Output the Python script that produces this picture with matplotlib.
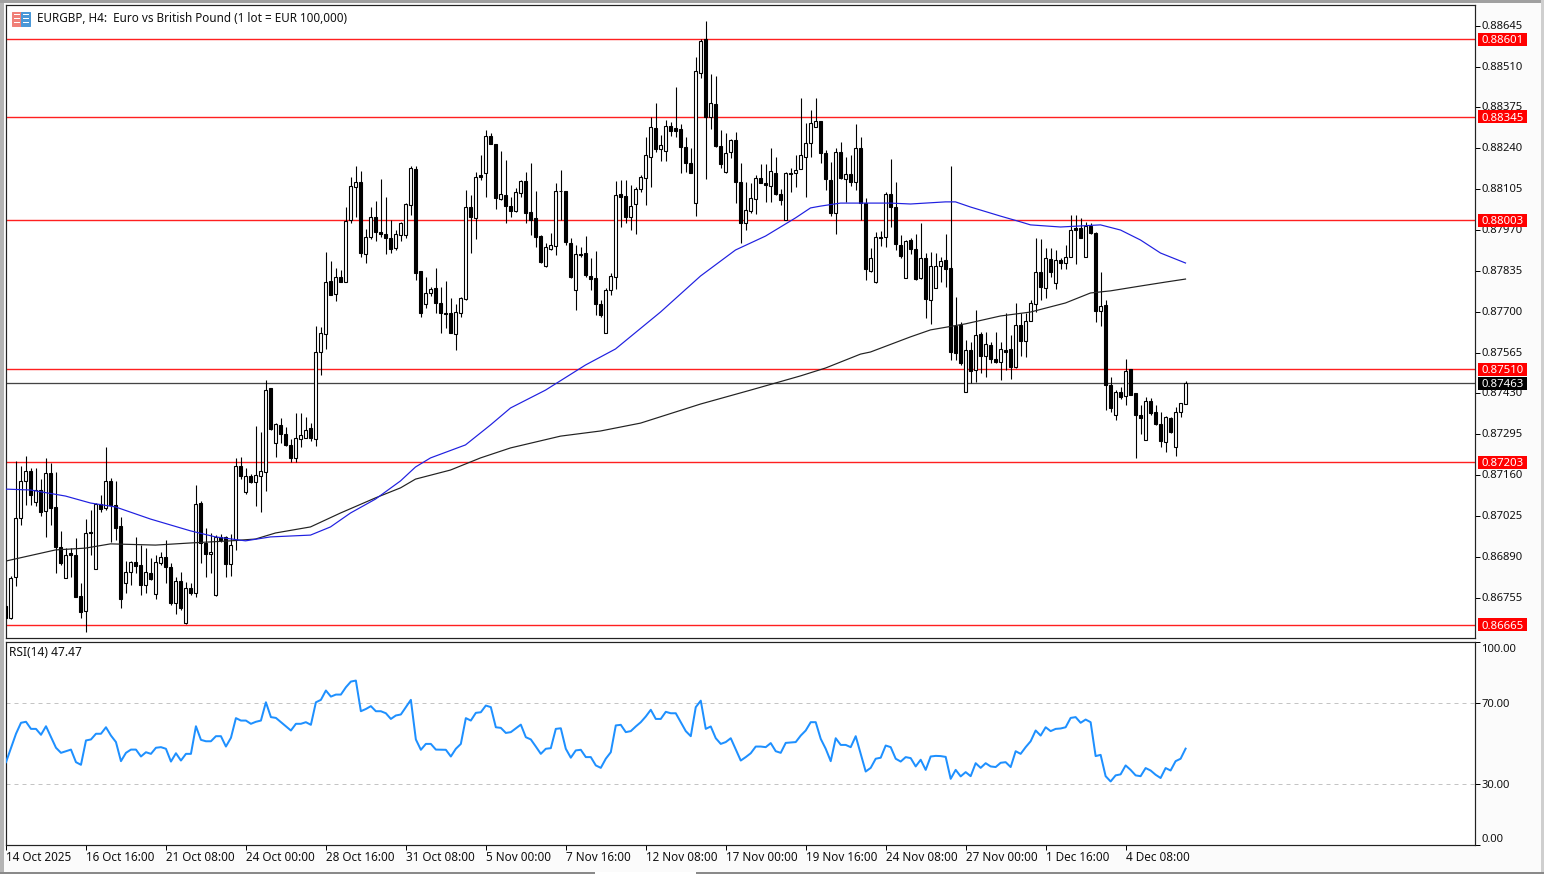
import numpy as np
import matplotlib
matplotlib.use('Agg')
import matplotlib.pyplot as plt
from matplotlib.patches import Rectangle
from matplotlib.transforms import ScaledTranslation

plt.rcParams['font.family'] = ['Noto Sans', 'DejaVu Sans']

# OHLC in points (1e-5)
opens = [86728,86688,86824,87019,87141,87174,87071,87111,87042,87167,
87055,86923,86820,86903,86896,86761,86711,86972,86850,87065,
87052,87141,87061,86992,86804,86840,86873,86863,86797,86837,
86767,86870,86890,86857,86738,86810,86672,86787,86771,87068,
86936,86900,86764,86956,86956,86867,86946,87190,87104,87157,
87137,87157,87171,87448,87266,87326,87296,87260,87217,87280,
87283,87316,87280,87567,87626,87802,87759,87815,87798,88003,
88112,88129,87891,87947,88013,87963,87957,87944,87911,87954,
87954,88053,88172,87835,87726,87762,87778,87729,87696,87696,
87626,87696,87742,88046,88010,88152,88158,88281,88254,88073,
88086,88049,88033,88092,88132,88030,88010,87950,87851,87907,
87917,88099,88099,87927,87772,87891,87894,87818,87811,87726,
87630,87772,87815,88089,88082,88013,88056,88106,88142,88211,
88307,88238,88231,88314,88307,88304,88244,88191,88059,88489,
88601,88343,88386,88248,88162,88228,88267,88129,87993,88033,
88073,88142,88125,88115,88158,88089,88003,88158,88158,88172,
88211,88258,88310,88330,88224,88135,88026,88228,88139,88155,
88129,88241,88059,87835,87798,87947,87947,88089,88046,87921,
87811,87937,87907,87811,87878,87739,87778,87851,87871,87845,
87653,87656,87435,87574,87508,87626,87554,87590,87544,87534,
87574,87577,87517,87656,87603,87669,87726,87831,87778,87874,
87795,87871,87861,87881,87977,87977,87881,87983,87960,87702,
87722,87458,87359,87435,87422,87511,87431,87359,87276,87405,
87369,87329,87270,87349,87253,87369,87395]
highs = [86731,86827,87207,87190,87223,87184,87184,87147,87217,87200,
87171,86976,86919,86919,86952,86804,87015,87045,87068,87095,
87253,87151,87141,87022,86876,86876,86956,86929,86919,86886,
86896,86906,86946,86870,86824,86840,86807,86804,87128,87075,
86985,86969,86962,86966,86959,86966,87217,87220,87184,87164,
87322,87303,87474,87448,87332,87349,87319,87280,87365,87365,
87352,87332,87653,87650,87897,87868,87845,87838,88046,88145,
88182,88165,87973,88046,88066,88139,88079,88003,87970,87997,
88059,88182,88182,87835,87815,87782,87845,87782,87802,87745,
87726,87749,88102,88086,88162,88218,88300,88291,88254,88231,
88201,88079,88109,88135,88162,88191,88099,87954,87927,87960,
88125,88168,88099,87944,87921,87914,87950,87878,87901,87739,
87778,87828,88132,88135,88135,88119,88112,88152,88277,88343,
88390,88284,88334,88327,88443,88320,88277,88241,88542,88601,
88661,88486,88479,88300,88291,88271,88294,88191,88129,88125,
88152,88188,88188,88241,88211,88106,88162,88175,88218,88406,
88324,88367,88406,88330,88234,88195,88241,88261,88211,88218,
88320,88277,88076,87911,87963,87967,88096,88205,88129,87954,
87937,87944,87957,87993,87894,87897,87894,87881,87957,88182,
87749,87666,87607,87600,87706,87633,87633,87600,87633,87600,
87696,87623,87729,87696,87696,87739,87944,87940,87911,87911,
87904,87878,87921,88020,88020,88010,87997,87993,87963,87831,
87739,87484,87441,87451,87544,87511,87431,87392,87418,87415,
87392,87369,87356,87352,87385,87398,87471]
lows = [86685,86685,86794,86995,87061,87061,87058,87025,86956,86995,
86837,86863,86820,86824,86758,86688,86642,86896,86850,87038,
87045,86939,86946,86721,86771,86797,86837,86764,86771,86814,
86751,86863,86804,86731,86701,86715,86668,86764,86758,86870,
86824,86837,86761,86939,86824,86827,86913,87147,87098,87134,
87058,87038,87108,87309,87220,87266,87256,87204,87204,87253,
87283,87273,87256,87491,87577,87755,87735,87798,87798,87993,
88013,87881,87861,87940,87934,87947,87891,87894,87904,87934,
87944,88020,87805,87683,87712,87752,87696,87630,87646,87630,
87574,87683,87739,87894,87940,88135,88079,88254,88039,88069,
87993,88013,88030,88079,87993,87954,87914,87861,87848,87904,
87887,88003,87921,87811,87706,87881,87815,87772,87689,87683,
87630,87755,87775,87980,87993,87970,87957,88096,88053,88112,
88228,88198,88198,88281,88277,88158,88162,88158,88016,88472,
88139,88304,88244,88175,88158,88208,88059,87927,87970,88026,
88023,88125,88063,88063,88086,88053,88003,88096,88112,88172,
88079,88211,88310,88191,88102,88016,87957,88139,88063,88115,
88102,88003,87805,87831,87795,87917,87914,87980,87904,87878,
87811,87891,87805,87808,87679,87660,87778,87798,87782,87541,
87541,87524,87435,87465,87468,87498,87484,87531,87531,87474,
87508,87478,87514,87554,87551,87669,87699,87739,87745,87815,
87775,87841,87841,87881,87858,87944,87881,87957,87666,87653,
87375,87369,87342,87412,87392,87425,87217,87296,87276,87359,
87326,87253,87237,87299,87223,87352,87395]
closes = [86688,86820,87019,87141,87174,87095,87111,87038,87167,87052,
86923,86870,86896,86896,86758,86708,86969,86969,87065,87048,
87141,87061,86985,86751,86840,86873,86860,86797,86840,86817,
86873,86890,86857,86738,86810,86721,86787,86771,87065,86936,
86900,86906,86956,86946,86867,86929,87190,87157,87157,87137,
87161,87174,87441,87313,87329,87296,87260,87217,87283,87293,
87309,87283,87567,87630,87798,87755,87815,87798,88000,88115,
88129,87894,87947,88013,87963,87957,87944,87907,87957,87993,
88056,88175,87828,87696,87762,87775,87729,87696,87693,87630,
87699,87745,88046,88013,88145,88145,88281,88254,88076,88089,
88049,88033,88096,88132,88026,88003,87947,87864,87914,87921,
88099,88099,87930,87815,87891,87888,87821,87808,87726,87689,
87772,87818,88086,88079,88013,88049,88106,88145,88218,88310,
88238,88251,88314,88297,88297,88244,88191,88158,88495,88595,
88343,88390,88248,88188,88224,88267,88129,87993,88036,88076,
88142,88125,88119,88165,88089,88069,88158,88155,88168,88218,
88258,88324,88330,88224,88139,88026,88228,88142,88155,88129,
88241,88059,87841,87878,87947,87944,88089,88046,87924,87884,
87934,87907,87808,87878,87742,87851,87851,87868,87841,87567,
87564,87531,87574,87504,87623,87554,87593,87544,87534,87577,
87567,87517,87656,87603,87669,87729,87831,87782,87878,87831,
87871,87861,87881,87970,87970,87944,87983,87960,87702,87719,
87458,87382,87435,87418,87504,87425,87359,87349,87405,87365,
87329,87273,87352,87303,87369,87398,87463]

# moving averages, read at the bars where the line bends
blue_bars = [0,5,12,17,22,29,37,42,48,53,61,65,69,74,79,82,85,92,97,101,108,116,122,131,139,146,152,158,161,163,167,177,181,188,190,193,199,203,205,211,219,223,227,231,236]
blue_ma = [87114,87111,87091,87068,87055,87015,86976,86956,86943,86956,86962,86989,87035,87081,87141,87187,87217,87260,87326,87382,87441,87524,87577,87699,87818,87904,87950,88010,88043,88049,88059,88059,88056,88063,88063,88046,88016,87997,87987,87980,87987,87970,87937,87894,87861]
black_bars = [0,10,16,21,30,37,45,50,54,61,67,74,79,82,89,95,101,111,119,127,139,149,159,164,171,173,181,185,192,199,205,212,217,221,227,232,236]
black_ma = [86876,86913,86919,86933,86929,86936,86943,86949,86969,86989,87035,87085,87118,87147,87177,87217,87250,87289,87306,87332,87395,87441,87488,87514,87560,87567,87617,87640,87660,87686,87699,87729,87762,87769,87785,87798,87808]

rsi_bars = [0,2,3,4,5,6,7,8,10,11,13,14,15,16,17,18,19,20,21,22,23,24,25,26,27,28,29,30,31,32,33,34,35,36,37,38,39,40,41,42,43,44,45,46,47,48,49,50,51,52,53,54,57,58,59,60,61,62,63,64,65,66,67,68,69,70,71,72,73,74,75,76,77,78,79,81,82,83,84,85,86,88,89,90,91,92,93,94,95,96,97,98,99,100,101,103,104,105,106,107,108,109,110,111,112,113,114,115,116,117,118,
119,120,121,122,123,124,125,126,127,128,129,130,131,132,133,134,135,136,137,138,139,140,141,142,143,144,145,147,148,149,150,151,152,153,154,155,156,158,159,160,161,162,163,164,165,166,167,168,169,170,171,172,173,174,175,176,177,178,179,180,181,182,183,184,185,186,187,188,189,190,191,192,193,194,195,196,197,198,199,200,201,202,203,204,205,206,207,208,209,210,211,212,213,214,215,216,217,218,219,220,221,222,223,224,225,226,227,228,229,230,231,232,233,234,235,236]
rsi = [40.8,54.8,60.2,60.7,57.2,57.2,54.3,58.5,47.9,45.4,47.0,40.8,39.5,51.5,52.0,54.8,54.8,58.0,53.9,50.7,41.3,45.4,47.0,47.0,43.6,45.7,44.9,47.9,48.2,47.4,41.1,45.2,41.6,44.9,44.9,58.5,51.8,51.1,51.1,53.6,53.6,48.5,52.8,62.5,61.3,61.3,59.7,60.7,61.3,70.3,63.0,62.6,56.4,59.7,59.7,60.5,59.2,70.3,71.5,76.1,73.1,74.1,74.1,77.7,80.5,81.0,65.9,67.0,68.4,65.9,65.9,64.9,62.1,63.8,64.3,71.5,52.0,46.9,49.8,49.8,47.0,46.9,43.6,47.4,49.8,62.5,61.3,65.1,65.4,68.7,67.9,58.0,57.7,55.2,55.6,59.3,53.1,52.0,48.5,44.9,47.4,47.7,57.2,57.5,47.4,43.0,46.6,46.9,43.3,43.3,39.2,
38.0,42.5,45.7,58.9,59.2,55.6,56.1,58.4,60.5,63.3,66.6,62.1,62.1,65.6,64.9,64.9,60.5,56.1,53.6,67.9,71.1,57.2,58.4,52.6,49.8,50.7,52.6,41.6,43.3,45.2,48.5,48.5,48.2,50.2,46.2,45.4,50.3,50.7,53.9,56.4,60.5,60.5,52.3,47.4,41.3,52.6,49.3,49.3,48.2,53.6,44.9,36.2,38.0,42.5,43.0,49.0,48.2,42.5,41.1,43.3,42.8,38.7,42.0,37.0,43.6,43.9,43.8,43.4,32.6,37.0,33.8,35.9,33.9,40.3,38.0,40.3,38.7,38.4,40.5,40.8,38.4,46.2,44.9,48.2,51.1,56.4,53.9,58.0,56.1,57.2,57.4,58.0,62.6,63.0,60.2,61.8,60.5,43.8,44.4,33.9,31.3,34.3,34.8,39.2,37.0,34.3,33.9,37.9,36.7,34.6,33.0,37.9,36.7,41.3,42.5,47.47]

levels = [0.88601, 0.88345, 0.88003, 0.87510, 0.87203, 0.86665]
last_price = 0.87463
price_ticks = [0.86755,0.86890,0.87025,0.87160,0.87295,0.87430,0.87565,0.87700,0.87835,0.87970,0.88105,0.88240,0.88375,0.88510,0.88645]
rsi_ticks = [0, 30, 70, 100]
time_bars = list(range(0, 225, 16))
time_labels = ['14 Oct 2025','16 Oct 16:00','21 Oct 08:00','24 Oct 00:00','28 Oct 16:00','31 Oct 08:00','5 Nov 00:00','7 Nov 16:00','12 Nov 08:00','17 Nov 00:00','19 Nov 16:00','24 Nov 08:00','27 Nov 00:00','1 Dec 16:00','4 Dec 08:00']

W, H = 1544, 874
o, h, l, c = [np.array(a) / 1e5 for a in (opens, highs, lows, closes)]
bars = np.arange(len(o))
px = 0.72  # one pixel in points at dpi 100

fig = plt.figure(figsize=(W / 100, H / 100), dpi=100, facecolor='#fbfbfb')

def pane(left, top, right, bottom):
    return fig.add_axes([left / W, 1 - bottom / H, (right - left) / W, (bottom - top) / H])

ax = pane(6, 5, 1475, 638)
ax2 = pane(6, 642, 1475, 845)
xlim = (0.1, 293.9)
ylim = (0.86622, 0.887135)
pane_h = 633

for y in levels:
    ax.axhline(y, color='#ff2020', lw=1.4 * px, zorder=1)
ax.axhline(last_price, color='#444444', lw=1.3 * px, zorder=1)

up = c >= o
ax.vlines(bars, l, h, color='black', lw=1.1 * px, zorder=2)
ax.bar(bars[up], (c - o)[up], bottom=o[up], width=0.62, facecolor='white', edgecolor='black', lw=1.1 * px, zorder=3)
ax.bar(bars[~up], (c - o)[~up], bottom=o[~up], width=0.62, facecolor='black', edgecolor='black', lw=1.1 * px, zorder=3)

ax.plot(black_bars, np.array(black_ma) / 1e5, color='#222222', lw=1.2 * px, zorder=4)
ax.plot(blue_bars, np.array(blue_ma) / 1e5, color='#2020e0', lw=1.2 * px, zorder=4)

ax.set_xlim(xlim)
ax.set_ylim(ylim)
ax.set_xticks([])
ax.yaxis.tick_right()
ax.set_yticks(price_ticks)
ax.set_yticklabels([f'{v:.5f}' for v in price_ticks])
ax.tick_params(axis='y', length=5 * px, width=px, pad=0.8, labelsize=8.1, labelcolor='#111111')
for lab in ax.get_yticklabels():
    lab.set_transform(lab.get_transform() + ScaledTranslation(0, 1 / 100, fig.dpi_scale_trans))

tag_tf = ax.get_yaxis_transform()
tag_h = 13 * (ylim[1] - ylim[0]) / pane_h
for y, col in [(v, '#ff0000') for v in levels] + [(last_price, 'black')]:
    ax.add_patch(Rectangle((1 + 3 / 1469, y - tag_h / 2), 49 / 1469, tag_h, transform=tag_tf, fc=col, ec='none', clip_on=False, zorder=5))
    ax.text(1 + 6 / 1469, y, f'{y:.5f}', transform=tag_tf, color='white', fontsize=8.2, va='center_baseline', ha='left', zorder=6, clip_on=False)

fig.text(37 / W, 1 - 19 / H, 'EURGBP, H4:  Euro vs British Pound (1 lot = EUR 100,000)', fontsize=8.45, va='center', color='#111111')

# little chart icon in the corner
for x0, col in ((12, '#f08078'), (21, '#4a98d8')):
    fig.add_artist(Rectangle((x0 / W, 1 - 26 / H), 9 / W, 14 / H, transform=fig.transFigure, fc=col, ec=col, lw=px))
    for yy in (15, 19, 23):
        fig.add_artist(Rectangle(((x0 + 1.5) / W, 1 - yy / H), 6 / W, 1.5 / H, transform=fig.transFigure, fc='white', ec='none'))

ax2.axhline(70, color='#c4c4c4', lw=px, ls=(0, (4, 4)), zorder=1)
ax2.axhline(30, color='#c4c4c4', lw=px, ls=(0, (4, 4)), zorder=1)
ax2.plot(rsi_bars, rsi, color='#1e90ff', lw=2 * px, zorder=3)
ax2.set_xlim(xlim)
ax2.set_ylim(0, 100)
ax2.yaxis.tick_right()
ax2.set_yticks(rsi_ticks)
ax2.set_yticklabels([f'{v:.2f}' for v in rsi_ticks])
ax2.tick_params(axis='y', length=5 * px, width=px, pad=0.8, labelsize=8.1, labelcolor='#111111')
for lab, va, shift in zip(ax2.get_yticklabels(), ('bottom', 'center', 'center', 'top'), (0, -1, -2, -2)):
    lab.set_va(va)
    lab.set_transform(lab.get_transform() + ScaledTranslation(0, shift / 100, fig.dpi_scale_trans))
ax2.set_xticks(time_bars)
ax2.set_xticklabels(time_labels, ha='left')
ax2.tick_params(axis='x', length=5 * px, width=px, pad=1, labelsize=8.45, labelcolor='#111111')
ax2.text(3 / 1469, 0.95, 'RSI(14) 47.47', transform=ax2.transAxes, fontsize=8.6, va='center', color='#111111')

for a in (ax, ax2):
    for s in a.spines.values():
        s.set_linewidth(1.2 * px)
        s.set_color('#222222')

# window edges
for rect, col in (((0, 0, 4, 874), '#b4b4b4'), ((0, 0, 1544, 3), '#a0a0a0'), ((1541, 0, 3, 874), '#cfcfcf'), ((0, 872, 1544, 2), '#8a8a8a'), ((595, 872, 101, 2), '#ffffff')):
    x0, y0, w, hh = rect
    fig.add_artist(Rectangle((x0 / W, 1 - (y0 + hh) / H), w / W, hh / H, transform=fig.transFigure, fc=col, ec='none'))

fig.savefig('out.png', dpi=100, facecolor=fig.get_facecolor())
